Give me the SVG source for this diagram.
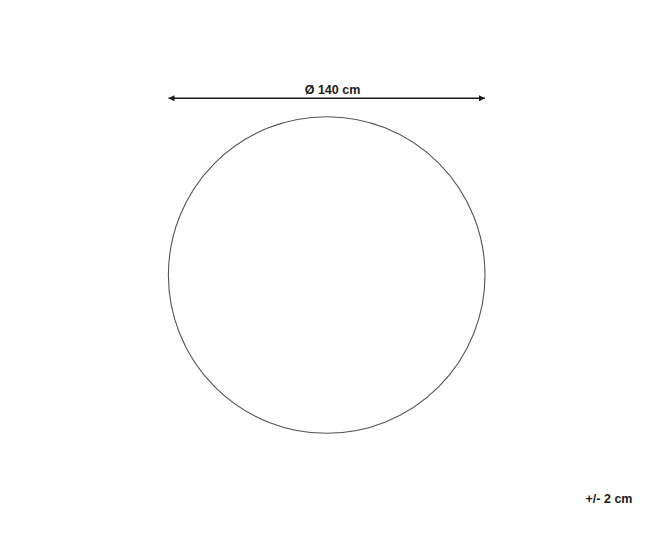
<svg xmlns="http://www.w3.org/2000/svg" width="650" height="551" viewBox="0 0 650 551">
<style>
.lbl{font-family:"Liberation Sans",Arial,sans-serif;font-weight:bold;font-size:12.5px;fill:#1a1a1a}
</style>
<defs>
<marker id="ah" viewBox="0 0 10 10" refX="10" refY="5" markerWidth="6" markerHeight="6" markerUnits="userSpaceOnUse" orient="auto-start-reverse">
<path d="M0,0 L10,5 L0,10 z" fill="#1a1a1a"/>
</marker>
</defs>
<rect width="650" height="551" fill="#ffffff"/>
<g id="rug">
<circle cx="326.7" cy="275" r="158.3" fill="none" stroke="#555555" stroke-width="1.1"/>
</g>
<g id="connectors">
<line x1="168.5" y1="98.3" x2="485" y2="98.3" stroke="#1a1a1a" stroke-width="1.6" marker-start="url(#ah)" marker-end="url(#ah)"/>
</g>
<g id="labels">
<text class="lbl" x="332.5" y="93.5" text-anchor="middle">Ø 140 cm</text>
<text class="lbl" x="609" y="503" text-anchor="middle">+/- 2 cm</text>
</g>
</svg>
